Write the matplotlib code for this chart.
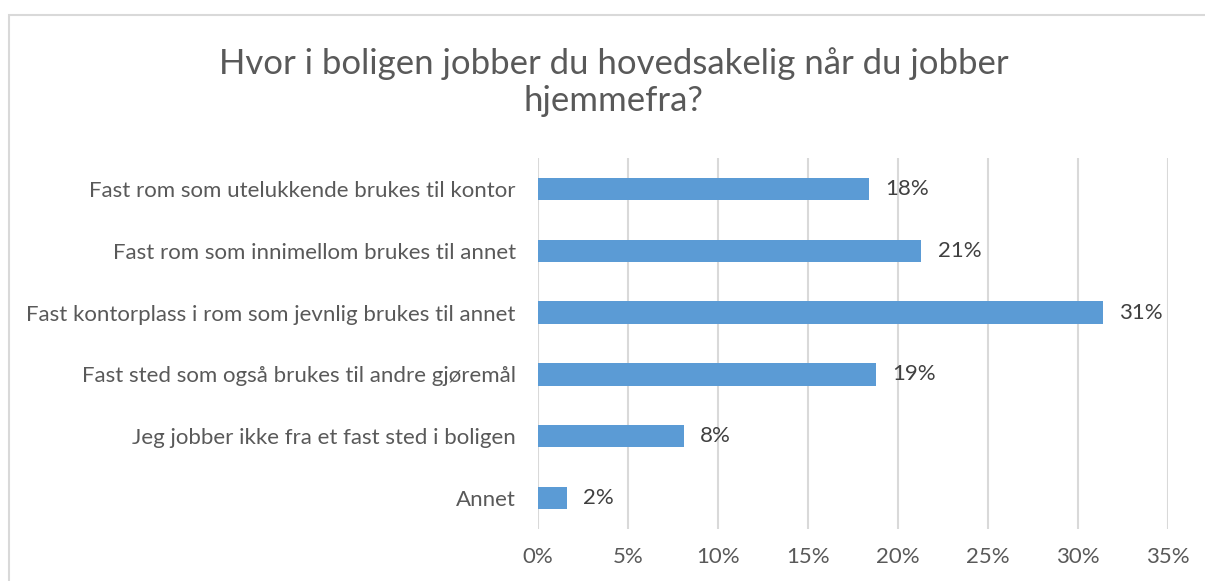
import matplotlib.pyplot as plt
import numpy as np
from matplotlib.patches import Rectangle

# Data (percent)
CATEGORIES = [
    "Fast rom som utelukkende brukes til kontor",
    "Fast rom som innimellom brukes til annet",
    "Fast kontorplass i rom som jevnlig brukes til annet",
    "Fast sted som også brukes til andre gjøremål",
    "Jeg jobber ikke fra et fast sted i boligen",
    "Annet",
]
VALUES = [18.4, 21.3, 31.4, 18.8, 8.1, 1.6]
X_TICKS = [0, 5, 10, 15, 20, 25, 30, 35]
TITLE = "Hvor i boligen jobber du hovedsakelig når du jobber\nhjemmefra?"

BAR_COLOR = "#5B9BD5"
GRID_COLOR = "#D9D9D9"
TEXT_COLOR = "#595959"

plt.rcParams["font.family"] = ["Lato", "DejaVu Sans"]

fig = plt.figure(figsize=(12.05, 5.81), dpi=100)
ax = fig.add_axes([0.4465, 0.0895, 0.5228, 0.6385])

y = np.arange(len(CATEGORIES))
ax.barh(y, VALUES, height=0.36, color=BAR_COLOR, zorder=3)

for yi, v in zip(y, VALUES):
    ax.text(v + 0.9, yi, f"{round(v):.0f}%", va="center", ha="left",
            fontsize=16, color="#404040")

ax.set_yticks(y)
ax.set_yticklabels(CATEGORIES, fontsize=16, color=TEXT_COLOR)
ax.set_ylim(len(CATEGORIES) - 0.5, -0.5)

ax.set_xlim(0, 35)
ax.set_xticks(X_TICKS)
ax.set_xticklabels([f"{t}%" for t in X_TICKS], fontsize=16, color=TEXT_COLOR)

ax.grid(axis="x", color=GRID_COLOR, linewidth=1.5, zorder=0)
ax.tick_params(axis="both", length=0)
ax.tick_params(axis="y", pad=16)
ax.tick_params(axis="x", pad=13)
for s in ax.spines.values():
    s.set_visible(False)

fig.text(0.509, 0.859, TITLE, ha="center", va="center", fontsize=25,
         color=TEXT_COLOR, linespacing=1.2)

# chart area border
fig.patches.append(Rectangle((9 / 1205, -0.05), 1.2, 1 - 15 / 581 + 0.05,
                             transform=fig.transFigure, fill=False,
                             edgecolor=GRID_COLOR, linewidth=1.5))

fig.savefig("out.png", dpi=100)
